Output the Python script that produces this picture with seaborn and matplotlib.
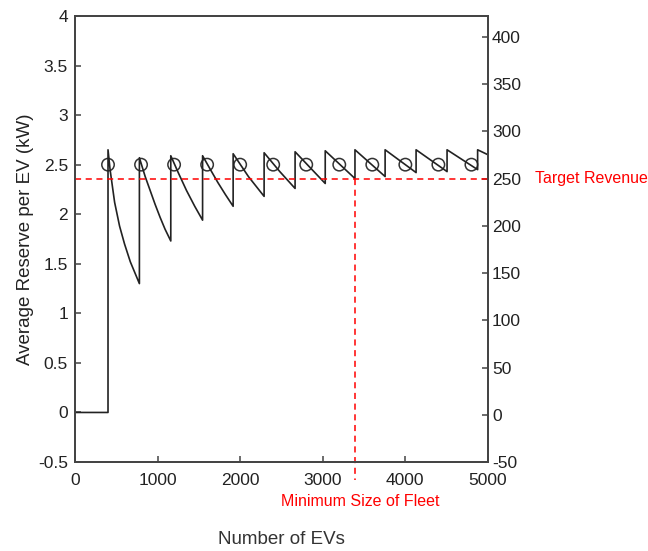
import matplotlib
matplotlib.use("Agg")

import matplotlib.pyplot as plt
import numpy as np
import pandas as pd
import seaborn as sns

# sawtooth trace of average reserve per EV
trace_x = [0, 200, 400, 400,
           425, 480, 540, 600, 670, 780,
           780, 850, 910, 970, 1030, 1090, 1160,
           1160, 1250, 1350, 1450, 1545,
           1545, 1640, 1730, 1820, 1915,
           1915, 2100, 2290,
           2290, 2480, 2665,
           2665, 3030,
           3030, 3390,
           3390, 3755,
           3755, 4130,
           4130, 4505,
           4505, 4875,
           4875, 5000]
trace_y = [0.0, 0.0, 0.0, 2.65,
           2.45, 2.12, 1.88, 1.70, 1.52, 1.30,
           2.57, 2.38, 2.24, 2.10, 1.97, 1.85, 1.73,
           2.59, 2.42, 2.24, 2.08, 1.94,
           2.59, 2.45, 2.32, 2.20, 2.08,
           2.61, 2.38, 2.18,
           2.62, 2.43, 2.26,
           2.63, 2.31,
           2.64, 2.36,
           2.65, 2.38,
           2.65, 2.42,
           2.65, 2.43,
           2.65, 2.45,
           2.65, 2.60]

marker_x = [400, 800, 1200, 1600, 2000, 2400, 2800, 3200, 3600, 4000, 4400, 4800]
marker_y = [2.5] * len(marker_x)

target_revenue = 250
min_fleet = 3390
min_fleet_reserve = 2.36

sns.set_theme(style="ticks")
plt.rcParams["font.family"] = ["Liberation Sans", "DejaVu Sans"]
plt.rcParams["axes.unicode_minus"] = False

fig = plt.figure(figsize=(6.48, 5.51), dpi=100)
ax = fig.add_axes([0.1157, 0.1615, 0.6373, 0.8095])

trace = pd.DataFrame({"x": trace_x, "y": trace_y})
sns.lineplot(data=trace, x="x", y="y", sort=False, estimator=None,
             color="#222222", linewidth=1.2, ax=ax)
sns.scatterplot(x=marker_x, y=marker_y, marker="o", s=80,
                facecolors="none", edgecolor="#333333", linewidth=1.1, ax=ax)

ax.set_xlim(0, 5000)
ax.set_ylim(-0.5, 4)
ax.set_xticks(np.arange(0, 5001, 1000))
ax.set_yticks(np.arange(-0.5, 4.01, 0.5))
ax.set_yticklabels(["-0.5", "0", "0.5", "1", "1.5", "2", "2.5", "3", "3.5", "4"])
ax.set_xlabel("Number of EVs", fontsize=13.5, color="#333333", labelpad=31)
ax.set_ylabel("Average Reserve per EV (kW)", fontsize=13.5, color="#222222", labelpad=3)

ax2 = ax.twinx()
ax2.set_ylim(-50, 422)
ax2.set_yticks(np.arange(-50, 401, 50))

# target revenue and minimum fleet size guides
ax2.axhline(target_revenue, color="red", linestyle=(0, (4, 3)), linewidth=1.1)
ax.plot([min_fleet, min_fleet], [min_fleet_reserve, -0.68], color="red",
        linestyle=(0, (4, 3)), linewidth=1.1, clip_on=False)
ax2.text(1.114, target_revenue, "Target Revenue", transform=ax2.get_yaxis_transform(),
         color="red", fontsize=11.5, va="center", ha="left")
ax.text(min_fleet + 70, -0.9, "Minimum Size of Fleet", color="red", fontsize=11.5,
        ha="center", va="center")

for a in (ax, ax2):
    for sp in a.spines.values():
        sp.set_visible(True)
        sp.set_color("#444444")
        sp.set_linewidth(1.3)
    a.tick_params(direction="in", length=4, width=1.1, colors="#444444",
                  labelsize=12.5, labelcolor="#222222")
ax.tick_params(axis="x", pad=8)
ax.tick_params(axis="y", pad=5)
ax2.tick_params(axis="y", pad=3)

fig.savefig("out.png", dpi=100)
